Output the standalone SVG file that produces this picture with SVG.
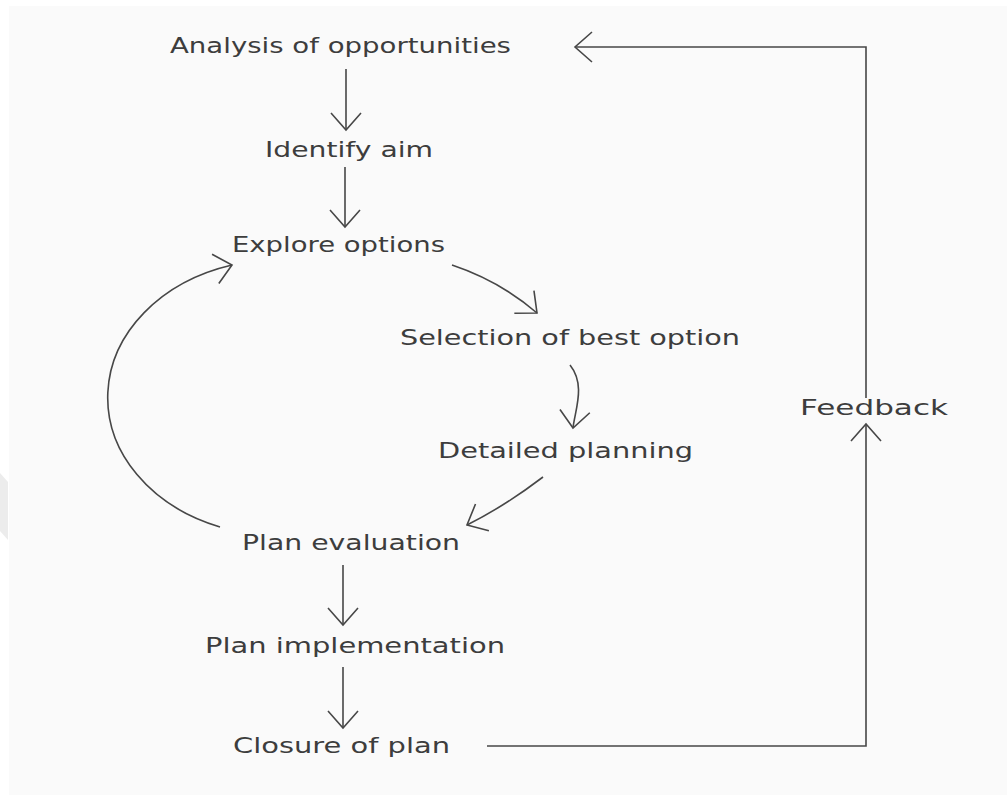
<svg xmlns="http://www.w3.org/2000/svg" width="1007" height="795" viewBox="0 0 1007 795">
  <defs>
    <marker id="chev" markerUnits="userSpaceOnUse" markerWidth="40" markerHeight="40" viewBox="-20 -20 40 40" refX="0" refY="0" orient="auto" overflow="visible">
      <path d="M-17,-15 L0,0 L-17,15" fill="none" stroke="#474747" stroke-width="1.6" stroke-linejoin="miter"/>
    </marker>
    <style>
      .lbl { font-family: "DejaVu Sans", "Liberation Sans", sans-serif; font-size: 20.5px; fill: #3d3d3d; }
      .con { fill: none; stroke: #474747; stroke-width: 1.6; }
      .arr { marker-end: url(#chev); }
    </style>
  </defs>
  <rect x="0" y="0" width="1007" height="795" fill="#ffffff"/>
  <rect x="9" y="6" width="998" height="789" fill="#fafafa"/>
  <polygon points="0,473 8,482 8,540 0,531" fill="#ececec"/>

  <g id="connectors">
    <line class="con arr" x1="346" y1="69" x2="346" y2="130"/>
    <line class="con arr" x1="345" y1="167" x2="345" y2="227"/>
    <path class="con arr" d="M452,265 Q500,281 537,313"/>
    <path class="con arr" d="M570,365 C586,385 575,410 573,428"/>
    <path class="con arr" d="M543,477 Q505,506 467,525"/>
    <path class="con arr" d="M220,527 A172,138 0 0 1 232,265"/>
    <line class="con arr" x1="343" y1="565" x2="343" y2="625"/>
    <line class="con arr" x1="343" y1="667" x2="343" y2="728"/>
    <path class="con arr" d="M487,746 L866,746 L866,424"/>
    <path class="con arr" d="M866,398 L866,47 L575,47"/>
  </g>

  <g id="node-analysis"><text class="lbl" x="170" y="53" textLength="341" lengthAdjust="spacingAndGlyphs">Analysis of opportunities</text></g>
  <g id="node-identify"><text class="lbl" x="265" y="157" textLength="168" lengthAdjust="spacingAndGlyphs">Identify aim</text></g>
  <g id="node-explore"><text class="lbl" x="232" y="252" textLength="213" lengthAdjust="spacingAndGlyphs">Explore options</text></g>
  <g id="node-selection"><text class="lbl" x="400" y="345" textLength="340" lengthAdjust="spacingAndGlyphs">Selection of best option</text></g>
  <g id="node-detailed"><text class="lbl" x="438" y="458" textLength="255" lengthAdjust="spacingAndGlyphs">Detailed planning</text></g>
  <g id="node-evaluation"><text class="lbl" x="242" y="550" textLength="218" lengthAdjust="spacingAndGlyphs">Plan evaluation</text></g>
  <g id="node-implementation"><text class="lbl" x="205" y="653" textLength="300" lengthAdjust="spacingAndGlyphs">Plan implementation</text></g>
  <g id="node-closure"><text class="lbl" x="233" y="753" textLength="217" lengthAdjust="spacingAndGlyphs">Closure of plan</text></g>
  <g id="node-feedback"><text class="lbl" x="800" y="415" textLength="148" lengthAdjust="spacingAndGlyphs">Feedback</text></g>
</svg>
